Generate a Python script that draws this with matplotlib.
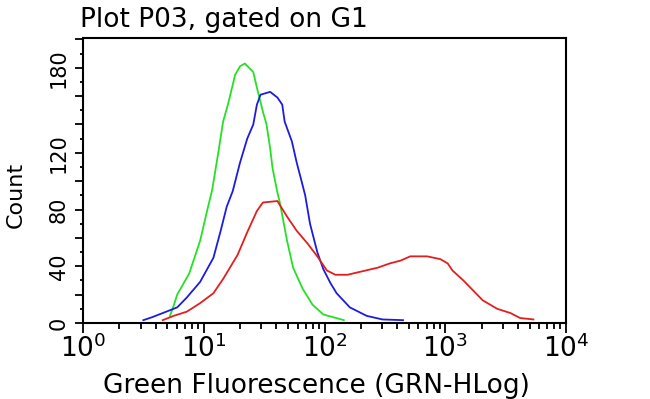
import numpy as np
import matplotlib
matplotlib.use('Agg')
import matplotlib.pyplot as plt
from matplotlib.ticker import FixedLocator, FixedFormatter, LogLocator

# 數據 (log10 螢光值, 計數)
green_log = [0.72, 0.75, 0.78, 0.88, 0.97, 1.03, 1.07, 1.12, 1.16, 1.20, 1.26, 1.30, 1.34,
             1.41, 1.44, 1.49, 1.52, 1.55, 1.57, 1.61, 1.63, 1.69, 1.74, 1.82, 1.90, 1.99, 2.16]
green_cnt = [5, 12, 20, 35, 58, 80, 94, 120, 142, 154, 175, 181, 183,
             177, 166, 149, 140, 123, 109, 92, 85, 58, 39, 24, 13, 6, 2]

blue_log = [0.50, 0.57, 0.66, 0.78, 0.86, 0.97, 1.08, 1.14, 1.19, 1.24, 1.30, 1.36, 1.41,
            1.44, 1.47, 1.55, 1.61, 1.65, 1.67, 1.73, 1.77, 1.81, 1.84, 1.88, 1.94, 1.99,
            2.05, 2.10, 2.21, 2.35, 2.48, 2.65]
blue_cnt = [2, 4, 7, 11, 18, 29, 46, 65, 82, 93, 113, 130, 140,
            154, 161, 163, 159, 154, 142, 128, 113, 100, 90, 70, 50, 38,
            28, 21, 11, 5, 2.5, 2]

red_log = [0.66, 0.75, 0.86, 0.97, 1.08, 1.16, 1.28, 1.36, 1.44, 1.49, 1.61, 1.69, 1.77,
           1.86, 1.94, 2.02, 2.09, 2.19, 2.29, 2.44, 2.54, 2.63, 2.71, 2.85, 2.96, 3.02,
           3.06, 3.15, 3.23, 3.31, 3.43, 3.54, 3.62, 3.73]
red_cnt = [2, 5, 8, 14, 21, 31, 48, 64, 79, 85, 86, 75, 65,
           56, 47, 37, 34, 34, 36, 39, 42, 44, 47, 47, 45, 42,
           37, 30, 23, 16, 10, 7, 3.5, 2.5]

y_ticks = [0, 20, 40, 60, 80, 100, 120, 140, 160, 180, 200]
y_labels = ['0', '', '40', '', '80', '', '120', '', '', '180', '']

fig = plt.figure(figsize=(6.5, 3.99), dpi=100)
ax = fig.add_axes([0.1277, 0.1905, 0.7431, 0.7143])

ax.plot(10 ** np.array(green_log), green_cnt, color='#26e026', lw=1.3)
ax.plot(10 ** np.array(blue_log), blue_cnt, color='#1c1ce0', lw=1.3)
ax.plot(10 ** np.array(red_log), red_cnt, color='#e41e1e', lw=1.3)

ax.set_xscale('log')
ax.set_xlim(1, 1e4)
ax.set_ylim(0, 201)
ax.xaxis.set_major_locator(LogLocator(base=10, numticks=10))
ax.xaxis.set_minor_locator(LogLocator(base=10, subs=np.arange(2, 10), numticks=20))

ax.yaxis.set_major_locator(FixedLocator(y_ticks))
ax.yaxis.set_major_formatter(FixedFormatter(y_labels))
ax.yaxis.set_minor_locator(FixedLocator(np.arange(10, 200, 20)))

ax.tick_params(axis='both', which='major', width=1.3, length=6, color='black')
ax.tick_params(axis='both', which='minor', width=1.3, length=2.5)
ax.tick_params(axis='x', which='major', labelsize=19, length=7, pad=1)
ax.tick_params(axis='x', which='minor', length=4)
ax.tick_params(axis='y', which='major', labelsize=15, labelrotation=90, pad=4)
for lab in ax.get_yticklabels():
    lab.set_va('center')

for s in ax.spines.values():
    s.set_linewidth(1.5)

ax.set_xlabel('Green Fluorescence (GRN-HLog)', fontsize=19)
ax.xaxis.set_label_coords(0.483, -0.175)
ax.set_ylabel('Count', fontsize=16)
ax.yaxis.set_label_coords(-0.118, 0.45)
fig.text(80 / 650, 1 - 27 / 399, 'Plot P03, gated on G1', fontsize=19, va='baseline', ha='left')

fig.savefig('out.png', dpi=100)
